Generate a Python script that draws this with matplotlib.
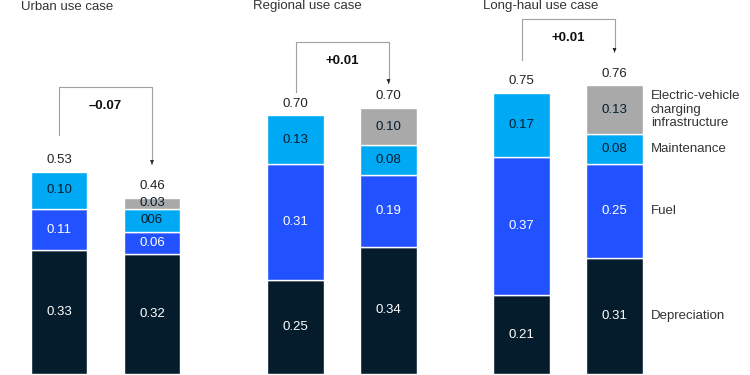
import matplotlib
matplotlib.use("Agg")
import matplotlib.pyplot as plt

plt.rcParams['font.family'] = ['Liberation Sans', 'DejaVu Sans']

titles = ["Urban use case", "Regional use case", "Long-haul use case"]
categories = ["Depreciation", "Fuel", "Maintenance",
              "Electric-vehicle\ncharging\ninfrastructure"]
colors = ["#051c2c", "#2251ff", "#00a9f4", "#a9a9a9"]
text_colors = ["white", "white", "#051c2c", "#051c2c"]

# each group: [before, after]; segments bottom -> top
depreciation = [[0.33, 0.32], [0.25, 0.34], [0.21, 0.31]]
fuel = [[0.11, 0.06], [0.31, 0.19], [0.37, 0.25]]
maintenance = [[0.10, 0.06], [0.13, 0.08], [0.17, 0.08]]
charging = [[0, 0.03], [0, 0.10], [0, 0.13]]
seg_labels = [[["0.33", "0.11", "0.10", ""], ["0.32", "0.06", "006", "0.03"]],
              [["0.25", "0.31", "0.13", ""], ["0.34", "0.19", "0.08", "0.10"]],
              [["0.21", "0.37", "0.17", ""], ["0.31", "0.25", "0.08", "0.13"]]]
totals = [["0.53", "0.46"], ["0.70", "0.70"], ["0.75", "0.76"]]
deltas = ["\u20130.07", "+0.01", "+0.01"]

# layout (pixels / value units)
group_x = [59, 295.5, 521.5]
title_x = [21, 253, 483]
brackets = [(0.637, 0.765, 0.552), (0.752, 0.885, 0.768), (0.837, 0.947, 0.851)]

fig = plt.figure(figsize=(7.5, 3.75), dpi=100)
ax = fig.add_axes([0, 0, 1, 1])
ax.set_xlim(0, 750)
ax.set_ylim(-1 / 375, 374 / 375)
ax.axis("off")

width = 56.5
for g in range(3):
    x0 = group_x[g]
    xs = [x0, x0 + 93]
    for b in range(2):
        vals = [depreciation[g][b], fuel[g][b], maintenance[g][b], charging[g][b]]
        bottom = 0
        for k, v in enumerate(vals):
            if v == 0:
                continue
            ax.bar(xs[b], v, width=width, bottom=bottom, color=colors[k],
                   edgecolor="white", linewidth=1)
            ax.text(xs[b], bottom + v / 2, seg_labels[g][b][k], ha="center",
                    va="center", color=text_colors[k], fontsize=9.5)
            if g == 2 and b == 1:
                ax.text(xs[b] + width / 2 + 8, bottom + v / 2, categories[k],
                        ha="left", va="center", color="#333333", fontsize=9.5,
                        linespacing=1.15)
            bottom += v
        ax.annotate(totals[g][b], (xs[b], bottom), xytext=(0, 4),
                    textcoords="offset points", ha="center", va="bottom",
                    fontsize=9.5, color="#222222")
    s, t, e = brackets[g]
    ax.plot([xs[0], xs[0], xs[1], xs[1]], [s, t, t, e + 0.012],
            color="#a0a0a0", lw=0.8)
    ax.annotate("", xy=(xs[1], e), xytext=(xs[1], e + 0.015),
                arrowprops=dict(arrowstyle="-|>", color="#222222", lw=0.6,
                                mutation_scale=5))
    ax.text((xs[0] + xs[1]) / 2, t - 0.05, deltas[g], ha="center",
            va="center", fontsize=9.5, fontweight="bold", color="#111111")
    ax.text(title_x[g], 0.98, titles[g], ha="left", va="center",
            fontsize=9.5, color="#333333")

fig.savefig("out.png", dpi=100, facecolor="white")
